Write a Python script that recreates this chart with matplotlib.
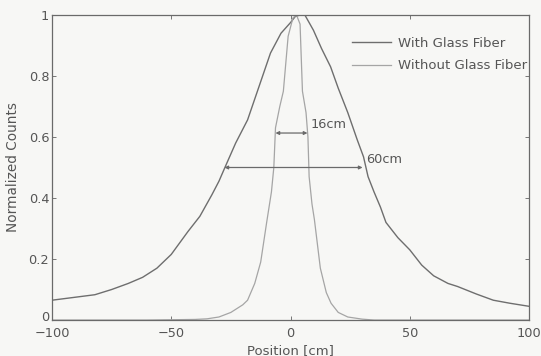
import matplotlib
matplotlib.use("Agg")
import matplotlib.pyplot as plt
import matplotlib.transforms as mtransforms

# Beam profile with glass fiber (broad)
pos_with = [-100, -90, -82, -75, -68, -62, -56, -50, -43, -38, -33, -30, -27.5,
            -23, -18, -13, -8.4, -4, 0, 2, 4, 6, 9.6, 13, 16.8, 20, 24, 28,
            30.6, 32.5, 35, 37.7, 40, 45, 50, 55, 60, 66, 70, 78, 85, 92, 100]
counts_with = [0.065, 0.075, 0.083, 0.10, 0.12, 0.14, 0.17, 0.215, 0.29, 0.34,
               0.41, 0.455, 0.50, 0.58, 0.656, 0.77, 0.875, 0.94, 0.975, 0.995,
               1.0, 1.0, 0.95, 0.89, 0.83, 0.76, 0.68, 0.59, 0.535, 0.47, 0.42,
               0.37, 0.32, 0.27, 0.23, 0.18, 0.145, 0.12, 0.11, 0.085, 0.065,
               0.055, 0.045]

# Beam profile without glass fiber (narrow)
pos_without = [-100, -60, -40, -35, -30, -25, -20, -18, -15, -12.5, -10, -8, -7,
               -6.3, -4.5, -3, -1, 1, 2.5, 4, 5, 6.5, 7.3, 7.8, 9, 10, 12.5, 15,
               17, 20, 24, 30, 35, 60, 100]
counts_without = [0.0, 0.0, 0.002, 0.004, 0.01, 0.025, 0.05, 0.065, 0.12, 0.19,
                  0.32, 0.42, 0.50, 0.63, 0.70, 0.75, 0.93, 0.99, 1.0, 0.97,
                  0.75, 0.68, 0.60, 0.47, 0.38, 0.33, 0.17, 0.09, 0.055, 0.025,
                  0.01, 0.003, 0.0, 0.0, 0.0]

# FWHM annotations: (left, right, height, label)
fwhm_wide = (-27.7, 30.2, 0.50, "60cm")
fwhm_narrow = (-6.3, 7.1, 0.613, "16cm")

xticks = [-100, -50, 0, 50, 100]
yticks = [0, 0.2, 0.4, 0.6, 0.8, 1]
yticklabels = ["0", "0.2", "0.4", "0.6", "0.8", "1"]

bg = "#f7f7f5"
ink = "#555555"

fig = plt.figure(figsize=(5.41, 3.56), dpi=100, facecolor=bg)
ax = fig.add_axes([0.096, 0.101, 0.882, 0.857], facecolor=bg)

ax.plot(pos_with, counts_with, color="#6e6e6e", lw=1.0, label="With Glass Fiber")
ax.plot(pos_without, counts_without, color="#a5a5a5", lw=0.9,
        label="Without Glass Fiber")

for left, right, h, txt in (fwhm_wide, fwhm_narrow):
    ax.annotate("", xy=(left, h), xytext=(right, h),
                arrowprops=dict(arrowstyle="<|-|>", color="#6a6a6a", lw=0.9,
                                mutation_scale=5, shrinkA=0, shrinkB=0))
    ax.text(right + 1.3, h + 0.005, txt, fontsize=9.3, color=ink,
            ha="left", va="bottom")

ax.set_xlim(-100, 100)
ax.set_ylim(0, 1)
ax.set_xticks(xticks)
ax.set_yticks(yticks)
ax.set_yticklabels(yticklabels)
ax.tick_params(direction="in", length=3, width=0.7, colors="#777777",
               labelcolor=ink, labelsize=9.3, top=True, right=True)
ax.tick_params(axis="x", pad=5)
ax.tick_params(axis="y", pad=2)
# lift the bottom "0" so it sits clear of "-100"
lab0 = ax.get_yticklabels()[0]
lab0.set_transform(lab0.get_transform() +
                   mtransforms.ScaledTranslation(0, 4 / 100, fig.dpi_scale_trans))

for s in ax.spines.values():
    s.set_color("#6a6a6a")
    s.set_linewidth(0.9)

ax.set_xlabel("Position [cm]", fontsize=9.5, color=ink, labelpad=3)
ax.set_ylabel("Normalized Counts", fontsize=9.8, color=ink, labelpad=6)

leg = ax.legend(loc="upper right", bbox_to_anchor=(1.012, 0.955), frameon=False,
                fontsize=9.5, handlelength=3.0, handletextpad=0.5,
                labelspacing=0.75, borderaxespad=0.2)
for t in leg.get_texts():
    t.set_color(ink)

fig.savefig("out.png", dpi=100, facecolor=bg)
